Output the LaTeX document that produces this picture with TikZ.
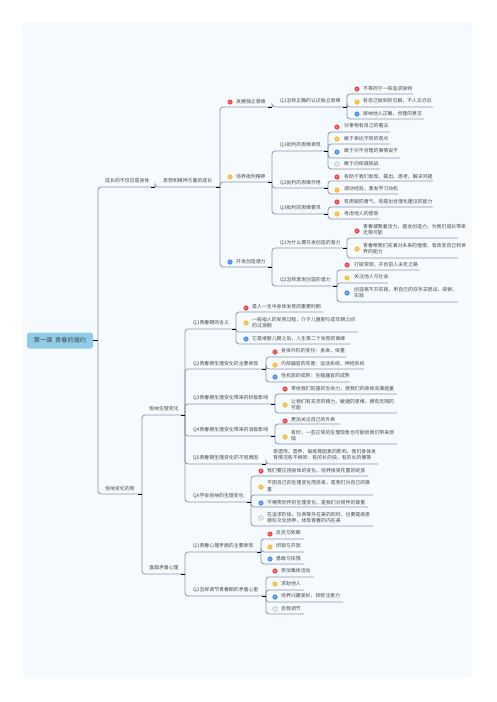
\documentclass[tikz,border=0pt]{standalone}
\usepackage{fontspec}
\setmainfont{Noto Sans CJK SC}
\definecolor{pagebg}{HTML}{F5FAFE}
\definecolor{rootfill}{HTML}{8FCDE6}
\definecolor{linecol}{HTML}{8A92AE}
\definecolor{txtcol}{HTML}{4A4A4A}
\definecolor{redm}{HTML}{F04A4A}
\definecolor{orgm}{HTML}{FDBB3A}
\definecolor{blum}{HTML}{4A90F0}
\definecolor{grym}{HTML}{A8A8A8}
\tikzset{
  conn/.style={draw=linecol,line width=0.75pt,rounded corners=3pt},
  tickmark/.style={draw=black,line width=0.9pt},
  lab/.style={anchor=west,inner sep=0pt,text=txtcol,align=left,font=\fontsize{4.9}{6.2}\selectfont},
  ico/.style={circle,inner sep=0pt,minimum size=5.2pt,font=\fontsize{2.8}{2.8}\selectfont},
  ico1/.style={ico,fill=redm,text=white},
  ico2/.style={ico,fill=orgm,text=white},
  ico3/.style={ico,fill=blum,text=white},
  ico4/.style={ico,draw=grym,line width=0.5pt,fill=white,text=grym,minimum size=4.6pt},
}
% name, parent, text x, text y, x end, y line, text
\newcommand\tpc[7]{%
  \coordinate (#1e) at (#5,#6);
  \node[lab] (#1) at (#3,#4) {#7};
  \draw[conn] (#2e) |- (#1e);
}
\newcommand\tck[1]{\draw[tickmark] ([xshift=-4pt]#1e) -- (#1e);}
\begin{document}
\begin{tikzpicture}[x=1pt,y=-1pt]
\useasboundingbox (0,0) rectangle (497,702);
\fill[pagebg] (23,23) rectangle (472,677);

\node[fill=rootfill,rounded corners=2.5pt,minimum width=66pt,minimum height=16pt,inner sep=0pt,text=txtcol,font=\fontsize{6.2}{7}\selectfont] (root) at (60,340.5) {第一课\ \ 青春的邀约};
\coordinate (roote) at (98,340.5);

% level 1
\tpc{a}{root}{105}{181}{155}{187}{成长的不仅仅是身体}
\tpc{b}{root}{105}{489}{142}{494}{悦纳变化的我}
% level 2
\tpc{a1}{a}{163}{181}{220}{187}{思想和精神方面的成长}
\tpc{b1}{b}{149}{409}{185}{415}{悦纳生理变化}
\tpc{b2}{b}{149}{568}{185}{574}{直面矛盾心理}
% level 3
\node[ico1] (a11i) at (230,102) {1};
\tpc{a11}{a1}{236}{102}{272}{107}{发展独立思维}
\node[ico2] (a12i) at (230,177) {2};
\tpc{a12}{a1}{236}{177}{272}{182}{培养批判精神}
\node[ico3] (a13i) at (230,262) {3};
\tpc{a13}{a1}{236}{262}{272}{267}{开发创造潜力}
% level 4 - independent thinking
\tpc{q11}{a11}{280}{101}{347}{107}{Q1怎样正确的认识独立思维}
\node[ico1] (l1i) at (357,89) {1};
\tpc{l1}{q11}{363}{89}{413}{94}{不等同于一味追求独特}
\node[ico2] (l2i) at (357,102) {2};
\tpc{l2}{q11}{363}{101}{433}{107}{有自己独到的见解，不人云亦云}
\node[ico3] (l3i) at (357,114) {3};
\tpc{l3}{q11}{363}{114}{424}{119}{接纳他人正确、合理的意见}
% level 4 - critical spirit
\tpc{q21}{a12}{280}{145}{328}{151}{Q1批判的思维表现}
\node[ico1] (l4i) at (337,127) {1};
\tpc{l4}{q21}{344}{126}{390}{132}{对事物有自己的看法}
\node[ico2] (l5i) at (337,139) {2};
\tpc{l5}{q21}{344}{139}{390}{144}{敢于表达不同的观点}
\node[ico3] (l6i) at (337,152) {3};
\tpc{l6}{q21}{344}{151}{400}{158}{敢于对不合理的事情说不}
\node[ico4] (l7i) at (337,164) {4};
\tpc{l7}{q21}{344}{164}{380}{169}{敢于向权威挑战}
\tpc{q22}{a12}{280}{183}{328}{188}{Q2批判的思维作用}
\node[ico1] (l8i) at (337,177) {1};
\tpc{l8}{q22}{344}{177}{433}{181}{有助于我们发现、提出、思考、解决问题}
\node[ico2] (l9i) at (337,190) {2};
\tpc{l9}{q22}{344}{189}{398}{194}{调动经验，激发学习动机}
\tpc{q23}{a12}{280}{208}{328}{214}{Q3批判的思维要求}
\node[ico1] (l10i) at (337,202) {1};
\tpc{l10}{q23}{344}{202}{433}{207}{有质疑的勇气，有提出合理化建议的能力}
\node[ico2] (l11i) at (337,214) {2};
\tpc{l11}{q23}{344}{214}{379}{219}{考虑他人的感受}
% level 4 - creativity
\tpc{q31}{a13}{280}{243}{347}{248}{Q1为什么要开发创造的潜力}
\node[ico1] (l12i) at (357,231) {1};
\tpc{l12}{q31}{363}{230}{458}{238}{青春凝聚着活力、蕴含创造力，为我们成长带来\\无限可能}
\node[ico2] (l13i) at (357,249) {2};
\tpc{l13}{q31}{363}{249}{458}{258}{青春帮我们充满对未来的憧憬，有改变自己和世\\界的能力}
\tpc{q32}{a13}{280}{280}{337}{286}{Q2怎样激发创造的潜力}
\node[ico1] (l14i) at (347,265) {1};
\tpc{l14}{q32}{354}{265}{419}{270}{打破常规，开创前人未走之路}
\node[ico2] (l15i) at (347,278) {2};
\tpc{l15}{q32}{354}{277}{388}{283}{关注他人与社会}
\node[ico3] (l16i) at (347,293) {3};
\tpc{l16}{q32}{354}{293}{458}{302}{创造离不开实践，用自己的双手去尝试、探索、\\实践}
% physiological change
\tpc{p1}{b1}{193}{323}{236}{329}{Q1青春期的含义}
\node[ico1] (m1i) at (246,308) {1};
\tpc{m1}{p1}{252}{307}{323}{312}{是人一生中身体发育的重要时期}
\node[ico2] (m2i) at (246,323) {2};
\tpc{m2}{p1}{252}{323}{358}{332}{一般指人的发育过程，介于儿童期与成年期之间\\的过渡期}
\node[ico3] (m3i) at (246,339) {3};
\tpc{m3}{p1}{252}{339}{350}{344}{它是继婴儿期之后，人生第二个发育的高峰}
\tpc{p2}{b1}{193}{364}{266}{369}{Q2青春期生理变化的主要表现}
\node[ico1] (m4i) at (275,352) {1};
\tpc{m4}{p2}{281}{351}{346}{357}{身体外形的变化：身高，体重}
\node[ico2] (m5i) at (275,365) {2};
\tpc{m5}{p2}{281}{364}{364}{369}{内部器官的完善：运动系统、神经系统}
\node[ico3] (m6i) at (275,377) {3};
\tpc{m6}{p2}{281}{376}{350}{382}{性机能的成熟：生殖器官的成熟}
\tpc{p3}{b1}{193}{398}{275}{404}{Q3青春期生理变化带来的积极影响}
\node[ico1] (m7i) at (285,389) {1};
\tpc{m7}{p3}{291}{389}{397}{394}{带给我们旺盛的生命力，使我们的身体充满能量}
\node[ico2] (m8i) at (285,405) {2};
\tpc{m8}{p3}{291}{404.5}{397}{413}{让我们有充沛的精力、敏捷的思维，拥有无限的\\可能}
\tpc{p4}{b1}{193}{430}{275}{436}{Q4青春期生理变化带来的消极影响}
\node[ico1] (m9i) at (285,421) {1};
\tpc{m9}{p4}{291}{420}{340}{424}{更加关注自己的外表}
\node[ico2] (m10i) at (285,437) {2};
\tpc{m10}{p4}{291}{436}{397}{444}{有时，一些正常的生理现象也可能给我们带来烦\\恼}
\tpc{p5}{b1}{193}{458}{266}{464}{Q5青春期生理变化的不同原因}
\tpc{m11}{p5}{273}{455}{378}{464}{受遗传、营养、锻炼等因素的影响，我们身体发\\育情况各不相同：有的长的快，有的长的慢等}
\tpc{p6}{b1}{193}{496}{251}{502}{Q6学会悦纳的生理变化}
\node[ico1] (m12i) at (261,471) {1};
\tpc{m12}{p6}{267}{471}{368}{476}{我们要正视身体的变化，培养接受花蕾的绽放}
\node[ico2] (m13i) at (261,487) {2};
\tpc{m13}{p6}{267}{486}{373}{495}{不因自己的生理变化而自卑，是我们对自己的尊\\重}
\node[ico3] (m14i) at (261,503) {3};
\tpc{m14}{p6}{267}{503}{368}{507}{不嘲笑同伴的生理变化，是我们对同伴的尊重}
\node[ico4] (m15i) at (261,518) {4};
\tpc{m15}{p6}{267}{518}{373}{526}{在追求形体、仪表等外在美的同时，也要提高思\\德科文化修养，体现青春的内在美}
% contradictory mind
\tpc{r1}{b2}{193}{546}{261}{552}{Q1青春心理矛盾的主要表现}
\node[ico1] (n1i) at (270,534) {1};
\tpc{n1}{r1}{276}{533}{304}{539}{反抗与依赖}
\node[ico2] (n2i) at (270,547) {2};
\tpc{n2}{r1}{276}{546}{304}{552}{闭锁与开放}
\node[ico3] (n3i) at (270,559) {3};
\tpc{n3}{r1}{276}{559}{304}{564}{勇敢与怯懦}
\tpc{r2}{b2}{193}{590}{266}{596}{Q2怎样调节青春期的矛盾心里}
\node[ico1] (n4i) at (275,571) {1};
\tpc{n4}{r2}{281}{571}{314}{577}{参加集体活动}
\node[ico2] (n5i) at (275,584) {2};
\tpc{n5}{r2}{281}{584}{304}{590}{求助他人}
\node[ico3] (n6i) at (275,597) {3};
\tpc{n6}{r2}{281}{596}{343}{602}{培养兴趣爱好，转移注意力}
\node[ico4] (n7i) at (275,609) {4};
\tpc{n7}{r2}{281}{609}{304}{614}{自我调节}

% short dark ticks where a branch forks
\draw[tickmark] (root.east) -- (roote);
\foreach \k in {a,b,a1,b1,b2,a11,a12,a13,q11,q21,q22,q23,q31,q32,p1,p2,p3,p4,p6,r1,r2} {\tck{\k}}
\draw[tickmark] (262,464) -- (266,464);
\end{tikzpicture}
\end{document}
